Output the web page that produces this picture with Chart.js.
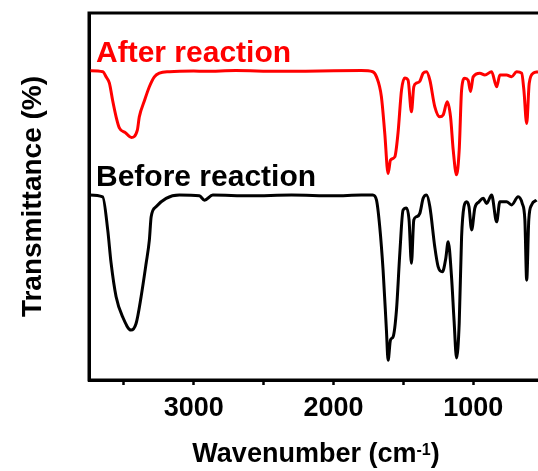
<!DOCTYPE html>
<html>
<head>
<meta charset="utf-8">
<script src="https://cdn.jsdelivr.net/npm/chart.js@4.4.1/dist/chart.umd.min.js"></script>
<style>
  html, body { margin: 0; padding: 0; background: #fff; overflow: hidden; }
  #wrap { width: 560px; height: 471px; }
</style>
</head>
<body>
<div id="wrap"><canvas id="ftirChart" width="560" height="471"></canvas></div>
<script>
// FTIR spectra: wavenumber (cm-1) vs. transmittance (traces offset, a.u.)
const afterWavenumber = [
  3750, 3650, 3628, 3604, 3580, 3556, 3533, 3490, 3447, 3404, 3390, 3354, 3318, 3282, 3246, 3174,
  3000, 2920, 2700, 2400, 2100, 1800, 1719, 1692, 1657, 1633, 1609, 1592, 1561, 1538, 1513, 1490,
  1466, 1442, 1425, 1406, 1382, 1358, 1334, 1310, 1275, 1239, 1215, 1186, 1162, 1143, 1119, 1100,
  1083, 1060, 1036, 1019, 1000, 952, 916, 868, 832, 809, 761, 725, 689, 653, 637, 617, 599, 570, 536
];
const afterTransmittance = [
  84.3, 84.0, 82.6, 80.9, 76.0, 71.7, 68.7, 67.4, 66.1, 68.1, 71.7, 76.0, 79.9, 82.6, 83.6, 84.0,
  84.2, 84.1, 84.3, 84.1, 84.2, 84.3, 84.0, 82.6, 77.2, 67.3, 56.3, 59.9, 60.8, 67.3, 79.0, 82.3,
  81.7, 73.1, 79.9, 80.9, 81.4, 83.6, 84.0, 81.7, 74.5, 71.7, 72.2, 75.8, 71.7, 62.7, 55.9, 62.7,
  79.0, 82.2, 81.7, 78.6, 82.6, 83.6, 83.1, 84.0, 79.9, 83.1, 83.1, 82.6, 84.0, 83.6, 79.0, 69.9, 80.8, 83.6, 84.0
];
const beforeWavenumber = [
  3750, 3652, 3616, 3592, 3556, 3509, 3449, 3413, 3377, 3341, 3318, 3305, 3270, 3198, 3103, 2960,
  2923, 2864, 2600, 2300, 2000, 1800, 1719, 1692, 1669, 1645, 1621, 1609, 1592, 1573, 1549, 1525,
  1502, 1478, 1459, 1442, 1425, 1406, 1382, 1358, 1334, 1310, 1275, 1251, 1220, 1196, 1179, 1155,
  1137, 1119, 1100, 1083, 1066, 1047, 1030, 1011, 988, 957, 928, 904, 868, 832, 809, 761, 725, 678,
  649, 630, 617, 602, 582, 546
];
const beforeTransmittance = [
  50.4, 49.9, 40.9, 31.9, 22.7, 17.2, 13.6, 15.4, 22.7, 31.8, 38.1, 44.5, 47.2, 49.5, 50.4, 50.2,
  49.0, 50.4, 50.2, 50.4, 50.2, 50.4, 50.4, 49.0, 41.8, 30.0, 13.6, 5.4, 10.9, 11.8, 19.1, 34.6,
  46.3, 46.9, 43.6, 31.8, 43.6, 44.5, 45.4, 49.5, 50.4, 47.2, 36.3, 30.9, 29.5, 33.2, 37.7, 28.1,
  16.3, 6.0, 15.5, 39.0, 47.2, 48.6, 47.2, 40.9, 46.9, 48.6, 49.5, 48.1, 50.4, 43.1, 48.6, 48.6, 47.7, 49.9,
  48.1, 43.6, 27.2, 43.6, 47.7, 49.0
];
const seriesLabels = ['After reaction', 'Before reaction'];
const xTickValues = [3500, 3000, 2500, 2000, 1500, 1000, 500];
const xTickLabels = ['', '3000', '', '2000', '', '1000', ''];

const fontFamily = '"Liberation Sans", Arial, sans-serif';
const toPoints = (xs, ys) => xs.map((x, i) => ({ x: x, y: ys[i] }));

// closed box round the plot area
const framePlugin = {
  id: 'frame',
  afterDatasetsDraw(chart) {
    const { ctx, chartArea: a } = chart;
    ctx.save();
    ctx.strokeStyle = '#000';
    ctx.lineWidth = 3;
    ctx.strokeRect(a.left, a.top, a.right - a.left, a.bottom - a.top);
    ctx.restore();
  }
};

// series name written above the start of each trace
const seriesNamePlugin = {
  id: 'seriesNames',
  afterDatasetsDraw(chart) {
    const { ctx, chartArea } = chart;
    ctx.save();
    ctx.font = 'bold 30px ' + fontFamily;
    ctx.textBaseline = 'alphabetic';
    chart.data.datasets.forEach((ds, i) => {
      const first = chart.getDatasetMeta(i).data[0];
      ctx.fillStyle = ds.borderColor;
      ctx.fillText(ds.label, chartArea.left + 7, first.y - 9);
    });
    ctx.restore();
  }
};

// x axis title with a raised "-1"
const xTitlePlugin = {
  id: 'xTitle',
  afterDraw(chart) {
    const { ctx } = chart;
    const mainFont = 'bold 27px ' + fontFamily;
    const supFont = 'bold 16px ' + fontFamily;
    ctx.save();
    ctx.fillStyle = '#000';
    ctx.textBaseline = 'alphabetic';
    ctx.font = mainFont;
    const w1 = ctx.measureText('Wavenumber (cm').width;
    const w3 = ctx.measureText(')').width;
    ctx.font = supFont;
    const w2 = ctx.measureText('-1').width;
    let x = 316 - (w1 + w2 + w3) / 2;
    const y = 462;
    ctx.font = mainFont;
    ctx.fillText('Wavenumber (cm', x, y);
    x += w1;
    ctx.font = supFont;
    ctx.fillText('-1', x, y - 7);
    x += w2;
    ctx.font = mainFont;
    ctx.fillText(')', x, y);
    ctx.restore();
  }
};

const ctx = document.getElementById('ftirChart').getContext('2d');
const ftirChart = new Chart(ctx, {
  type: 'line',
  data: {
    datasets: [
      {
        label: seriesLabels[0],
        data: toPoints(afterWavenumber, afterTransmittance),
        borderColor: '#ff0000',
        borderWidth: 3,
        pointRadius: 0,
        cubicInterpolationMode: 'monotone'
      },
      {
        label: seriesLabels[1],
        data: toPoints(beforeWavenumber, beforeTransmittance),
        borderColor: '#000000',
        borderWidth: 3,
        pointRadius: 0,
        cubicInterpolationMode: 'monotone'
      }
    ]
  },
  options: {
    responsive: false,
    animation: false,
    layout: { padding: { top: 13, right: 3, left: 0, bottom: 0 } },
    plugins: {
      legend: { display: false },
      tooltip: { enabled: false }
    },
    scales: {
      x: {
        type: 'linear',
        reverse: true,
        min: 400,
        max: 3750,
        afterBuildTicks: (scale) => {
          scale.ticks = xTickValues.map(v => ({ value: v }));
        },
        afterFit: (scale) => { scale.height = 91; },
        grid: {
          display: true,
          drawOnChartArea: false,
          drawTicks: true,
          tickLength: 5,
          tickWidth: 2.5,
          tickColor: '#000'
        },
        border: { display: true, width: 3, color: '#000' },
        ticks: {
          autoSkip: false,
          maxRotation: 0,
          padding: 7,
          color: '#000',
          font: { family: fontFamily, size: 27, weight: 'bold' },
          callback: (value) => {
            const i = xTickValues.indexOf(value);
            return i >= 0 ? xTickLabels[i] : '';
          }
        }
      },
      y: {
        min: 0,
        max: 100,
        afterFit: (scale) => { scale.width = 89; },
        grid: { display: false },
        border: { display: true, width: 3, color: '#000' },
        ticks: { display: false },
        title: {
          display: true,
          text: 'Transmittance (%)',
          color: '#000',
          padding: { top: 16, bottom: 0 },
          font: { family: fontFamily, size: 28, weight: 'bold' }
        }
      }
    }
  },
  plugins: [framePlugin, seriesNamePlugin, xTitlePlugin]
});
</script>
</body>
</html>
